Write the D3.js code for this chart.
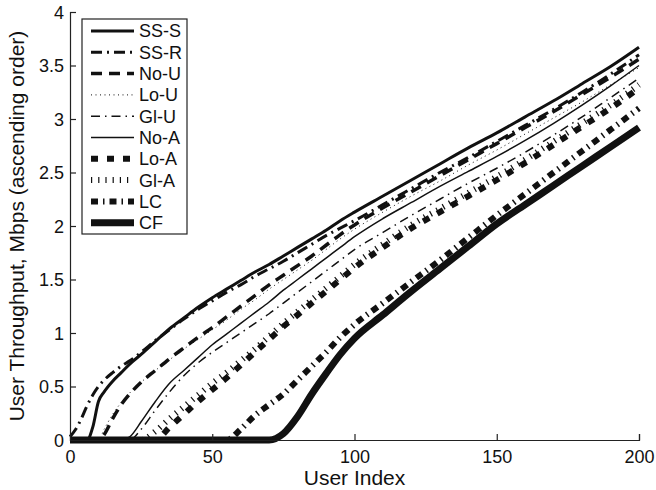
<!DOCTYPE html>
<html>
<head>
<meta charset="utf-8">
<script src="https://cdn.jsdelivr.net/npm/d3@7/dist/d3.min.js"></script>
<style>
  html, body { margin: 0; padding: 0; background: #fff; }
  svg { display: block; font-family: "Liberation Sans", Arial, Helvetica, sans-serif; }
</style>
</head>
<body>
<svg id="chart" width="656" height="490"></svg>
<script>
// ---- data ----
const userIndex = [0,2,4,6,8,10,12,15,18,21,25,30,35,40,45,50,55,60,65,70,75,80,85,90,95,100,110,120,130,140,150,160,170,180,190,200];

const seriesNames = ["SS-S","SS-R","No-U","Lo-U","Gl-U","No-A","Lo-A","Gl-A","LC","CF"];

const ssS = [0,0,0,0,0.12,0.36,0.45,0.55,0.63,0.71,0.80,0.92,1.04,1.14,1.24,1.33,1.41,1.49,1.57,1.64,1.72,1.80,1.88,1.96,2.05,2.13,2.28,2.43,2.58,2.73,2.87,3.02,3.17,3.33,3.49,3.67];
const ssR = [0.03,0.10,0.20,0.32,0.42,0.50,0.56,0.63,0.69,0.74,0.82,0.93,1.03,1.13,1.22,1.30,1.38,1.45,1.53,1.60,1.67,1.75,1.83,1.91,1.98,2.05,2.20,2.35,2.50,2.64,2.79,2.94,3.09,3.25,3.42,3.60];
const noU = [0,0,0,0,0,0,0.05,0.20,0.33,0.43,0.54,0.65,0.76,0.86,0.96,1.05,1.15,1.25,1.35,1.45,1.54,1.63,1.72,1.82,1.92,2.01,2.17,2.32,2.47,2.62,2.77,2.92,3.07,3.23,3.39,3.56];
const loU = [0,0,0,0,0,0,0.10,0.24,0.35,0.44,0.54,0.65,0.75,0.85,0.94,1.03,1.12,1.22,1.31,1.41,1.50,1.59,1.68,1.78,1.88,1.97,2.13,2.28,2.42,2.57,2.71,2.86,3.01,3.16,3.32,3.48];
const glU = [0,0,0,0,0,0,0,0,0,0,0.10,0.28,0.45,0.60,0.72,0.82,0.91,1.00,1.09,1.18,1.28,1.38,1.48,1.58,1.68,1.78,1.94,2.10,2.25,2.40,2.54,2.69,2.85,3.02,3.20,3.38];
const noA = [0,0,0,0,0,0,0,0,0,0.03,0.17,0.36,0.53,0.65,0.77,0.89,0.99,1.09,1.19,1.29,1.40,1.50,1.60,1.70,1.80,1.90,2.07,2.22,2.37,2.51,2.65,2.80,2.96,3.13,3.31,3.50];
const loA = [0,0,0,0,0,0,0,0,0,0,0,0,0.12,0.24,0.36,0.47,0.58,0.70,0.82,0.94,1.06,1.17,1.28,1.39,1.50,1.61,1.80,1.98,2.13,2.28,2.43,2.59,2.76,2.93,3.10,3.29];
const glA = [0,0,0,0,0,0,0,0,0,0,0,0.08,0.20,0.31,0.42,0.53,0.63,0.74,0.85,0.97,1.09,1.20,1.31,1.42,1.53,1.64,1.83,2.01,2.16,2.31,2.46,2.62,2.79,2.96,3.13,3.32];
const lc  = [0,0,0,0,0,0,0,0,0,0,0,0,0,0,0,0,0,0.10,0.23,0.33,0.43,0.56,0.69,0.82,0.96,1.08,1.28,1.48,1.68,1.89,2.10,2.30,2.50,2.70,2.90,3.10];
const cf  = [0,0,0,0,0,0,0,0,0,0,0,0,0,0,0,0,0,0,0,0,0.06,0.22,0.43,0.62,0.80,0.95,1.17,1.39,1.60,1.81,2.02,2.20,2.38,2.56,2.74,2.92];

const xTicks = [0,50,100,150,200];
const yTicks = [0,0.5,1,1.5,2,2.5,3,3.5,4];

// ---- styles ----
const styles = {
  "SS-S": {w: 3,   dash: null},
  "SS-R": {w: 3,   dash: "11,5,2,5"},
  "No-U": {w: 3.5, dash: "11,7"},
  "Lo-U": {w: 1,   dash: "1,3.5"},
  "Gl-U": {w: 1.5, dash: "9,5,1.5,5"},
  "No-A": {w: 1.5, dash: null},
  "Lo-A": {w: 6,   dash: "7,9"},
  "Gl-A": {w: 6,   dash: "1.2,6"},
  "LC":   {w: 6,   dash: "7,5,1.5,5"},
  "CF":   {w: 7,   dash: null}
};
const seriesValues = [ssS, ssR, noU, loU, glU, noA, loA, glA, lc, cf];

// ---- layout ----
const svg = d3.select("#chart");
const pL = 70, pR = 639, pT = 12, pB = 440;
const x = d3.scaleLinear().domain([0,200]).range([pL,pR]);
const y = d3.scaleLinear().domain([0,4]).range([pB,pT]);

const line = d3.line()
  .x((d,i) => x(userIndex[i]))
  .y(d => y(d))
  .curve(d3.curveMonotoneX);

const plot = svg.append("g");
seriesNames.forEach((name, k) => {
  const st = styles[name];
  plot.append("path")
    .datum(seriesValues[k])
    .attr("d", line)
    .attr("fill", "none")
    .attr("stroke", "#111")
    .attr("stroke-width", st.w)
    .attr("stroke-dasharray", st.dash)
    .attr("stroke-linejoin", "round");
});

// axes
const xAxis = d3.axisBottom(x).tickValues(xTicks).tickSize(-6).tickPadding(8).tickFormat(d3.format("d"));
const yAxis = d3.axisLeft(y).tickValues(yTicks).tickSize(-6).tickPadding(6).tickFormat(d => d3.format("")(d));

const gx = svg.append("g").attr("transform", `translate(0,${pB})`).call(xAxis);
const gy = svg.append("g").attr("transform", `translate(${pL},0)`).call(yAxis);
[gx, gy].forEach(g => {
  g.select(".domain").attr("stroke", "#222").attr("stroke-width", 1.2);
  g.selectAll(".tick line").attr("stroke", "#222").attr("stroke-width", 1.2);
  g.selectAll(".tick text").attr("fill", "#111").style("font-size", "18px")
    .style("font-family", "'Liberation Sans', Arial, sans-serif");
});
gx.selectAll(".tick text").attr("dy", "0.85em");
gy.selectAll(".tick text").attr("dy", "0.36em");
gx.selectAll(".tick").filter(d => d === 0).select("line").remove();
gy.selectAll(".tick").filter(d => d === 0).select("line").remove();

// axis labels
svg.append("text")
  .attr("x", (pL + pR) / 2).attr("y", 485)
  .attr("text-anchor", "middle")
  .style("font-size", "21px").attr("fill", "#111")
  .text("User Index");

svg.append("text")
  .attr("transform", `translate(24,${(pT + pB) / 2}) rotate(-90)`)
  .attr("text-anchor", "middle")
  .style("font-size", "21px").attr("fill", "#111")
  .text("User Throughput, Mbps (ascending order)");

// legend
const lgX = 82, lgY = 19, lgW = 105, rowH = 21.3;
const lg = svg.append("g");
lg.append("rect")
  .attr("x", lgX).attr("y", lgY)
  .attr("width", lgW).attr("height", rowH * seriesNames.length + 2)
  .attr("fill", "#fff").attr("stroke", "#222").attr("stroke-width", 1.2);
seriesNames.forEach((name, k) => {
  const st = styles[name];
  const cy = lgY + 12 + k * rowH;
  lg.append("line")
    .attr("x1", lgX + 9).attr("x2", lgX + 52)
    .attr("y1", cy).attr("y2", cy)
    .attr("stroke", "#111").attr("stroke-width", st.w)
    .attr("stroke-dasharray", st.dash);
  lg.append("text")
    .attr("x", lgX + 57).attr("y", cy)
    .attr("dy", "0.36em")
    .style("font-size", "18px").attr("fill", "#111")
    .text(name);
});
</script>
</body>
</html>
